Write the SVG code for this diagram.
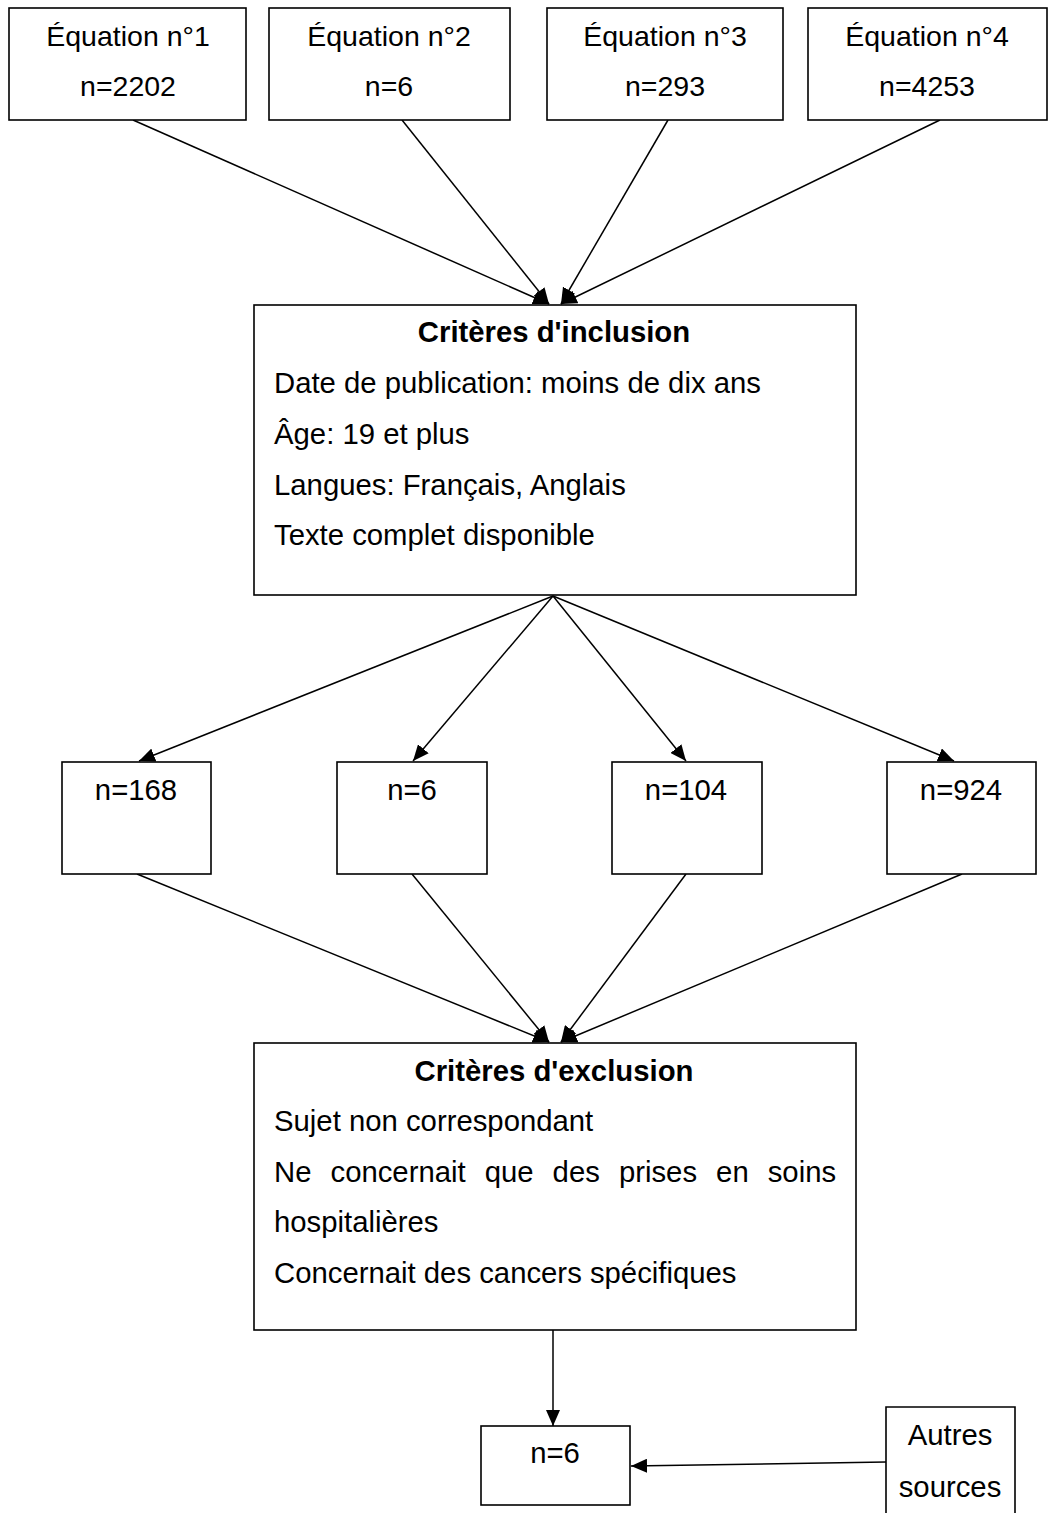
<svg xmlns="http://www.w3.org/2000/svg" width="1055" height="1513" viewBox="0 0 1055 1513">
<style>
.box{fill:#fff;stroke:#000;stroke-width:1.6}
.t{font-family:"Liberation Sans",Arial,sans-serif;font-size:29.3px;fill:#000}
.s{font-size:28.5px}
.c{text-anchor:middle}
.b{font-weight:bold}
.ln{stroke:#000;stroke-width:1.5;fill:none;marker-end:url(#ah)}
</style>
<defs>
<marker id="ah" markerUnits="userSpaceOnUse" markerWidth="16" markerHeight="14" refX="16" refY="7" orient="auto">
<path d="M0,0 L16,7 L0,14 Z" fill="#000"/>
</marker>
</defs>
<rect width="1055" height="1513" fill="#fff"/>
<g id="connectors">
<line class="ln" x1="133" y1="120" x2="549" y2="304"/>
<line class="ln" x1="402" y1="120" x2="549" y2="304"/>
<line class="ln" x1="668" y1="120" x2="561" y2="304"/>
<line class="ln" x1="940" y1="120" x2="561" y2="304"/>
<line class="ln" x1="553" y1="596" x2="139" y2="761"/>
<line class="ln" x1="553" y1="596" x2="413" y2="761"/>
<line class="ln" x1="553" y1="596" x2="686" y2="761"/>
<line class="ln" x1="553" y1="596" x2="954" y2="761"/>
<line class="ln" x1="137" y1="874" x2="549" y2="1042"/>
<line class="ln" x1="412" y1="874" x2="549" y2="1042"/>
<line class="ln" x1="686" y1="874" x2="561" y2="1042"/>
<line class="ln" x1="962" y1="874" x2="561" y2="1042"/>
<line class="ln" x1="553" y1="1330" x2="553" y2="1426"/>
<line class="ln" x1="886" y1="1462" x2="631" y2="1466"/>
</g>
<g id="eq1"><rect class="box" x="9" y="8" width="237" height="112"/><text class="t s c" x="128" y="46">Équation n°1</text><text class="t s c" x="128" y="96">n=2202</text></g>
<g id="eq2"><rect class="box" x="269" y="8" width="241" height="112"/><text class="t s c" x="389" y="46">Équation n°2</text><text class="t s c" x="389" y="96">n=6</text></g>
<g id="eq3"><rect class="box" x="547" y="8" width="236" height="112"/><text class="t s c" x="665" y="46">Équation n°3</text><text class="t s c" x="665" y="96">n=293</text></g>
<g id="eq4"><rect class="box" x="808" y="8" width="239" height="112"/><text class="t s c" x="927" y="46">Équation n°4</text><text class="t s c" x="927" y="96">n=4253</text></g>
<g id="inclusion"><rect class="box" x="254" y="305" width="602" height="290"/>
<text class="t c b" x="554" y="342">Critères d'inclusion</text>
<text class="t" x="274" y="393">Date de publication: moins de dix ans</text>
<text class="t" x="274" y="444">Âge: 19 et plus</text>
<text class="t" x="274" y="495">Langues: Français, Anglais</text>
<text class="t" x="274" y="545">Texte complet disponible</text></g>
<g id="n168"><rect class="box" x="62" y="762" width="149" height="112"/><text class="t c" x="136" y="800">n=168</text></g>
<g id="n6a"><rect class="box" x="337" y="762" width="150" height="112"/><text class="t c" x="412" y="800">n=6</text></g>
<g id="n104"><rect class="box" x="612" y="762" width="150" height="112"/><text class="t c" x="686" y="800">n=104</text></g>
<g id="n924"><rect class="box" x="887" y="762" width="149" height="112"/><text class="t c" x="961" y="800">n=924</text></g>
<g id="exclusion"><rect class="box" x="254" y="1043" width="602" height="287"/>
<text class="t c b" x="554" y="1081">Critères d'exclusion</text>
<text class="t" x="274" y="1131">Sujet non correspondant</text>
<text class="t" x="274" y="1182" word-spacing="10.9">Ne concernait que des prises en soins</text>
<text class="t" x="274" y="1232">hospitalières</text>
<text class="t" x="274" y="1283">Concernait des cancers spécifiques</text></g>
<g id="nfinal"><rect class="box" x="481" y="1426" width="149" height="79"/><text class="t c" x="555" y="1463">n=6</text></g>
<g id="autres"><path class="box" d="M886,1520 L886,1407 L1015,1407 L1015,1520"/><text class="t c" x="950" y="1445">Autres</text><text class="t c" x="950" y="1497">sources</text></g>
</svg>
